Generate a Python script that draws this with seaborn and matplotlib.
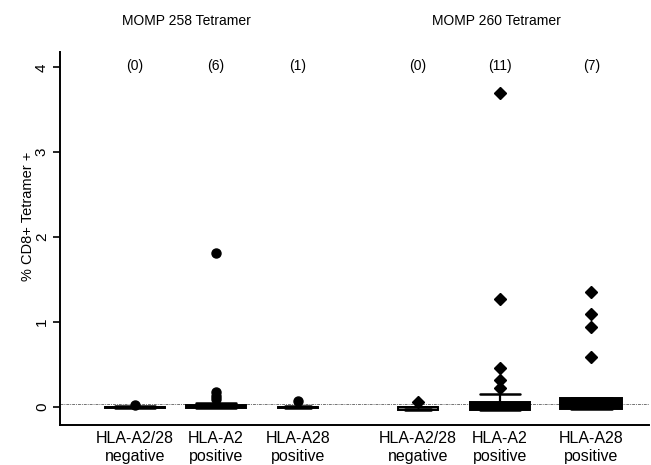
import matplotlib
matplotlib.use("Agg")
import matplotlib.pyplot as plt
import seaborn as sns
import pandas as pd

# ---- data ----
group_labels = ["HLA-A2/28\nnegative", "HLA-A2\npositive", "HLA-A28\npositive",
                "HLA-A2/28\nnegative", "HLA-A2\npositive", "HLA-A28\npositive"]
panel_titles = ["MOMP 258 Tetramer", "MOMP 260 Tetramer"]
responder_counts = ["(0)", "(6)", "(1)", "(0)", "(11)", "(7)"]
cutoff = 0.04

momp258_neg = [-0.01] * 4 + [0.0] * 6 + [0.01, 0.025]
momp258_a2 = [-0.01] * 6 + [0.0] * 5 + [0.01] * 2 + [0.02] * 3 + [0.05, 0.09, 0.13, 0.18, 1.81]
momp258_a28 = [-0.01] * 4 + [0.0] * 6 + [0.01, 0.065]
momp260_neg = [-0.035] * 4 + [-0.01] * 2 + [0.0] * 6 + [0.055]
momp260_a2 = [-0.035] * 7 + [0.0] * 8 + [0.02, 0.04, 0.06, 0.06] + [0.15, 0.22, 0.32, 0.46, 1.27, 3.7]
momp260_a28 = [-0.02] * 5 + [0.0] * 4 + [0.03, 0.06, 0.08, 0.105] + [0.59, 0.94, 1.09, 1.35]

groups = [momp258_neg, momp258_a2, momp258_a28, momp260_neg, momp260_a2, momp260_a28]

# ---- layout / style ----
positions = [0.0, 0.994, 2.0, 3.47, 4.48, 5.60]
box_widths = [0.74, 0.74, 0.49, 0.49, 0.74, 0.76]
markers = ["o", "o", "o", "D", "D", "D"]
marker_sizes = [6.5, 6.5, 6.5, 6.0, 6.0, 6.0]
face_colors = ["black", "black", "black", "0.45", "black", "black"]

sns.set_style("white")
plt.rcParams["font.family"] = ["Liberation Sans", "DejaVu Sans"]
plt.rcParams["text.color"] = "black"
plt.rcParams["axes.labelcolor"] = "black"
plt.rcParams["xtick.color"] = "black"
plt.rcParams["ytick.color"] = "black"

fig = plt.figure(figsize=(6.51, 4.65), dpi=100)
ax = fig.add_axes([60 / 651, 1 - 425 / 465, (649 - 60) / 651, (425 - 52) / 465])

ax.axhline(cutoff, color="0.45", lw=0.7, ls=(0, (3, 1, 1, 1)), zorder=0.5)

for vals, pos, w, mk, ms, fc in zip(groups, positions, box_widths, markers, marker_sizes, face_colors):
    df = pd.DataFrame({"x": [pos] * len(vals), "y": vals})
    sns.boxplot(data=df, x="x", y="y", native_scale=True, width=w, color=fc,
                linecolor="black", linewidth=1.4, whis=1.5, ax=ax,
                capwidths=w * 0.66,
                boxprops=dict(facecolor=fc, edgecolor="black"),
                whiskerprops=dict(color="black", lw=1.6),
                capprops=dict(color="black", lw=1.8),
                flierprops=dict(marker=mk, markerfacecolor="black",
                                markeredgecolor="black", markersize=ms))

ax.set_xlim(-0.92, 6.307)
ax.set_ylim(-0.212, 4.18)
ax.set_xticks(positions)
ax.set_xticklabels(group_labels, fontsize=11.5, linespacing=1.25, color="black")
ax.tick_params(axis="x", length=0, pad=4, colors="black")
ax.set_yticks([0, 1, 2, 3, 4])
ax.set_yticklabels(["0", "1", "2", "3", "4"], rotation=90, va="center", fontsize=11, color="black")
ax.tick_params(axis="y", direction="out", length=5, width=1.2, left=True, pad=3, colors="black")
ax.set_xlabel("")
ax.set_ylabel("% CD8+ Tetramer +", fontsize=10.5, color="black")
ax.yaxis.set_label_coords(-0.043, 0.56)

for s in ["top", "right"]:
    ax.spines[s].set_visible(False)
for s in ["left", "bottom"]:
    ax.spines[s].set_linewidth(1.4)
    ax.spines[s].set_color("black")

for pos, txt in zip(positions, responder_counts):
    ax.text(pos, 4.02, txt, ha="center", va="center", fontsize=10, color="black")

ax.text(0.63, 4.55, panel_titles[0], ha="center", va="center", fontsize=10, color="black", clip_on=False)
ax.text(4.44, 4.55, panel_titles[1], ha="center", va="center", fontsize=10, color="black", clip_on=False)

fig.savefig("out.png", dpi=100)
